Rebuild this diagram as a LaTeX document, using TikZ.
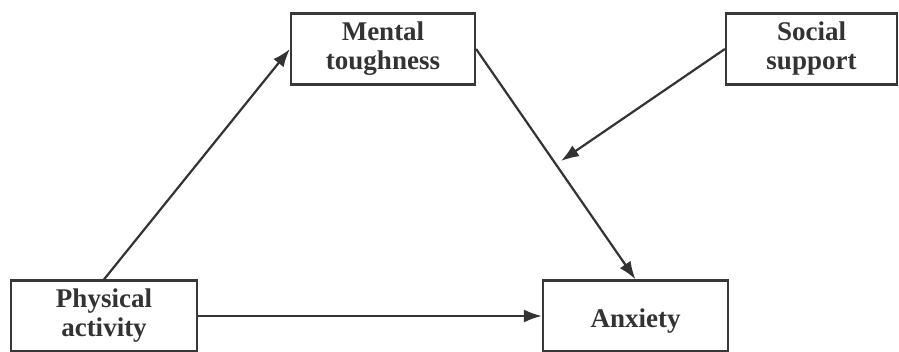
\documentclass[tikz,border=0pt]{standalone}
\usepackage{fontspec}
\setmainfont{Liberation Serif}
\usetikzlibrary{arrows.meta}
\begin{document}
\begin{tikzpicture}[x=1pt,y=-1pt,
  box/.style={draw=black!78, line width=2.2pt, fill=white, inner sep=0pt,
    minimum height=71pt, align=center, text=black!80,
    font=\bfseries\fontsize{27}{29}\selectfont},
  conn/.style={draw=black!80, line width=2.2pt, -{Latex[length=18pt,width=13pt]}}]
\useasboundingbox (0,0) rectangle (899,352);
\node[box, minimum width=184pt] (ment) at (383,49) {Mental\\toughness};
\node[box, minimum width=171pt] (soc) at (811.5,49) {Social\\support};
\node[box, minimum width=186pt] (phys) at (104,316) {Physical\\activity};
\node[box, minimum width=185pt] (anx) at (635.5,316) {};
\node[text=black!80, font=\bfseries\fontsize{27}{29}\selectfont] (anxt) at (635.5,321) {Anxiety};
\coordinate (mod) at (561,161);
\draw[conn] (phys.north) -- (ment.west);
\draw[conn] (phys.east) -- (anx.west);
\draw[conn] (ment.east) -- (anx.north);
\draw[conn] (soc.west) -- (mod);
\end{tikzpicture}
\end{document}
